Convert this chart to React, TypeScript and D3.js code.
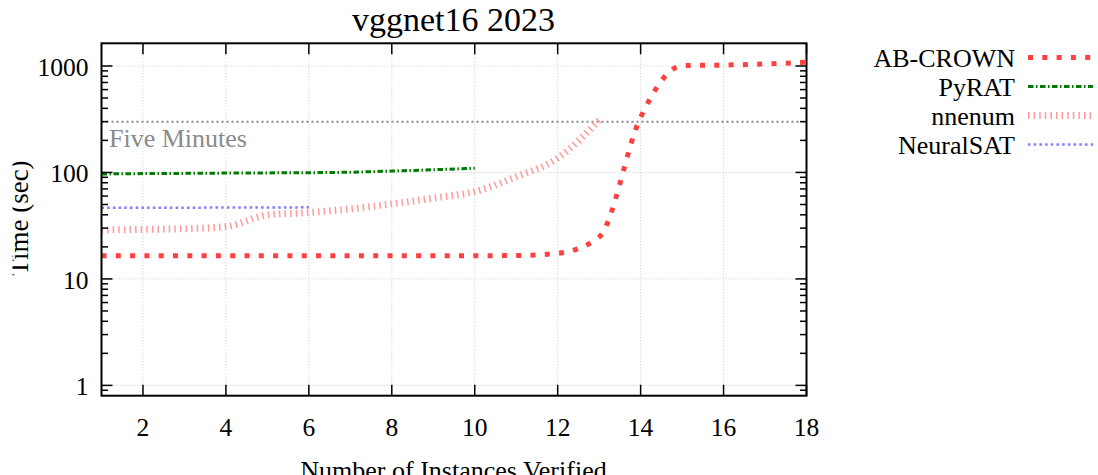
import React from "react";
import * as d3 from "d3";

const xInstances = [1, 2, 3, 4, 5, 6, 7, 8, 9, 10, 11, 12, 13, 14, 15, 16, 17, 18];
const abCrown = [16.5, 16.5, 16.5, 16.5, 16.5, 16.5, 16.5, 16.5, 16.5, 16.5, 16.6, 17.4, 24.8, 330, 1007, 1020, 1044, 1083];
const pyrat = [96.8, 97.5, 98, 98.6, 99, 99.5, 100.5, 103, 106, 109.5];
const nnenum = [28.8, 29.2, 29.6, 31, 39.9, 42, 45.5, 50.7, 57.4, 66, 91, 136, 311];
const neuralsat = [46.6, 46.7, 46.7, 46.8, 46.9, 47];

const xTicks = [2, 4, 6, 8, 10, 12, 14, 16, 18];
const yTicks = [1, 10, 100, 1000];
const seriesNames = ["AB-CROWN", "PyRAT", "nnenum", "NeuralSAT"];
const fiveMinutes = 300;

const FONT = "'Liberation Serif', 'DejaVu Serif', serif";

const styles = [
  { color: "#ff4040", width: 5, dash: "5 9.3" },
  { color: "#007a00", width: 3, dash: "5.5 2.5 1.5 2.5" },
  { color: "#ff9a9a", width: 7, dash: "1.5 4.1" },
  { color: "#7f7fff", width: 2.5, dash: "2.5 3.2" },
];

export default function App() {
  const left = 101.5, right = 806.5, top = 43.3, bottom = 395.7;
  const x = d3.scaleLinear().domain([1, 18]).range([left, right]);
  const y = d3.scaleLog().domain([0.8, 1633]).range([bottom, top]);

  const series = [abCrown, pyrat, nnenum, neuralsat];
  const line = d3
    .line<[number, number]>()
    .x((d) => x(d[0]))
    .y((d) => y(d[1]))
    .curve(d3.curveMonotoneX);

  const minor: number[] = [];
  [0.1, 1, 10, 100, 1000].forEach((dec) => {
    for (let k = 2; k <= 9; k++) {
      const v = dec * k;
      if (v >= 0.85 && v <= 1633) minor.push(v);
    }
  });

  const legendY = [57.5, 86.5, 115.5, 144.5];

  return (
    <svg
      width={1098}
      height={475}
      style={{ position: "absolute", left: 0, top: 0, background: "#fff" }}
      fontFamily={FONT}
    >
      <defs>
        <clipPath id="plotclip">
          <rect x={left} y={top} width={right - left} height={bottom - top} />
        </clipPath>
        <clipPath id="ylabclip">
          <rect x={12.5} y={0} width={100} height={475} />
        </clipPath>
      </defs>
      <rect x={0} y={0} width={1098} height={475} fill="#fff" />

      {/* grid */}
      {xTicks.map((t) => (
        <line key={"gx" + t} x1={x(t)} x2={x(t)} y1={top} y2={bottom} stroke="#c8c8c8" strokeWidth={1} strokeDasharray="1 2" />
      ))}
      {yTicks.map((t) => (
        <line key={"gy" + t} x1={left} x2={right} y1={y(t)} y2={y(t)} stroke="#c8c8c8" strokeWidth={1} strokeDasharray="1 2" />
      ))}

      {/* five minutes */}
      <line x1={left} x2={right} y1={y(fiveMinutes)} y2={y(fiveMinutes)} stroke="#888" strokeWidth={2} strokeDasharray="2 3" />
      <text x={109} y={y(fiveMinutes) + 25} fontSize={26} fill="#8a8a8a">Five Minutes</text>

      {/* series */}
      <g clipPath="url(#plotclip)">
        {[3, 2, 1, 0].map((i) => {
          const data = series[i].map((v, j) => [xInstances[j], v] as [number, number]);
          return (
            <path key={"s" + i} d={line(data) || ""} fill="none" stroke={styles[i].color} strokeWidth={styles[i].width} strokeDasharray={styles[i].dash} />
          );
        })}
      </g>

      {/* ticks */}
      {xTicks.map((t) => (
        <g key={"tx" + t}>
          <line x1={x(t)} x2={x(t)} y1={bottom} y2={bottom - 11} stroke="#000" strokeWidth={1.5} />
          <line x1={x(t)} x2={x(t)} y1={top} y2={top + 11} stroke="#000" strokeWidth={1.5} />
          <text x={x(t)} y={436} fontSize={25.5} textAnchor="middle" fill="#000">{t}</text>
        </g>
      ))}
      {yTicks.map((t) => (
        <g key={"ty" + t}>
          <line x1={left} x2={left + 11} y1={y(t)} y2={y(t)} stroke="#000" strokeWidth={1.5} />
          <line x1={right} x2={right - 11} y1={y(t)} y2={y(t)} stroke="#000" strokeWidth={1.5} />
          <text x={88.5} y={y(t) + 10} fontSize={25.5} textAnchor="end" fill="#000">{t}</text>
        </g>
      ))}
      {minor.map((t) => (
        <g key={"my" + t}>
          <line x1={left} x2={left + 6.5} y1={y(t)} y2={y(t)} stroke="#000" strokeWidth={1.5} />
          <line x1={right} x2={right - 6.5} y1={y(t)} y2={y(t)} stroke="#000" strokeWidth={1.5} />
        </g>
      ))}

      {/* frame */}
      <rect x={left} y={top} width={right - left} height={bottom - top} fill="none" stroke="#000" strokeWidth={2} />

      {/* title & labels */}
      <text x={453.5} y={31} fontSize={34} textAnchor="middle" fill="#000">vggnet16 2023</text>
      <text x={453.5} y={479} fontSize={26} textAnchor="middle" fill="#000">Number of Instances Verified</text>
      <g clipPath="url(#ylabclip)">
        <text transform="translate(28,218) rotate(-90)" fontSize={27} textAnchor="middle" fill="#000">Time (sec)</text>
      </g>

      {/* legend */}
      {seriesNames.map((n, i) => (
        <g key={"lg" + n}>
          <text x={1015} y={legendY[i] + 9.5} fontSize={26} textAnchor="end" fill="#000">{n}</text>
          <line x1={1028} x2={1093} y1={legendY[i]} y2={legendY[i]} stroke={styles[i].color} strokeWidth={styles[i].width} strokeDasharray={styles[i].dash} />
        </g>
      ))}
    </svg>
  );
}
